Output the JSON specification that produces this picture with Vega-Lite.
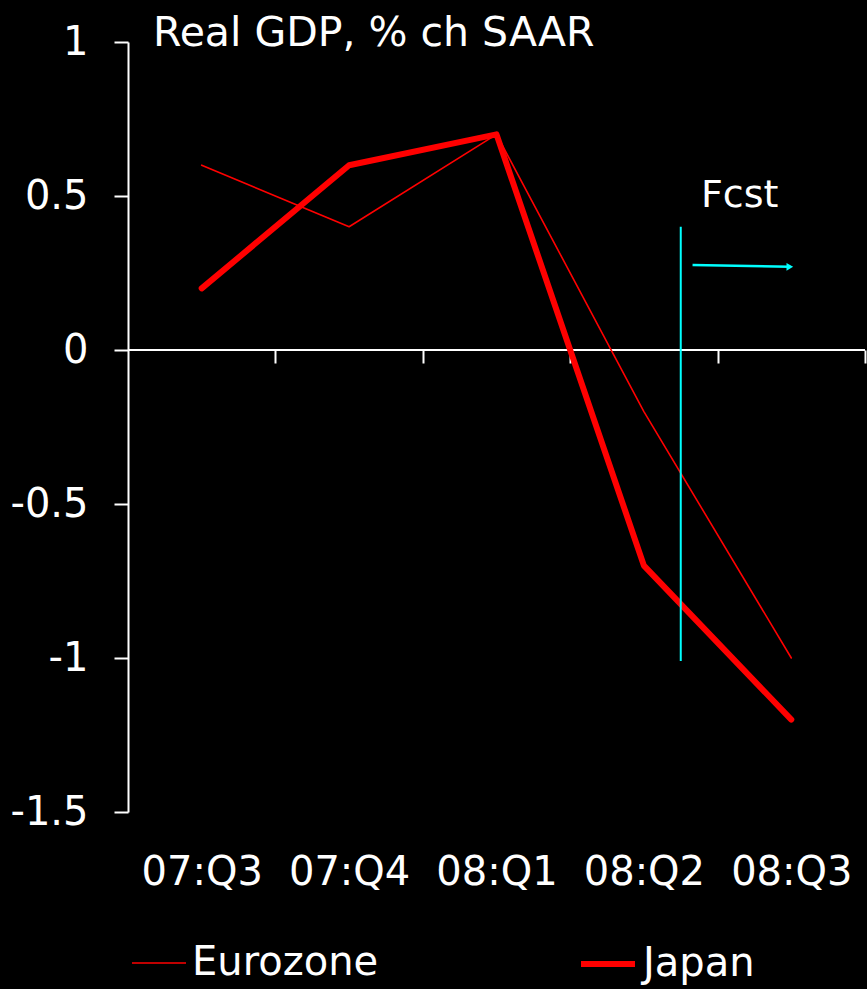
{
  "$schema": "https://vega.github.io/schema/vega-lite/v6.json",
  "width": 737,
  "height": 770,
  "autosize": {"type": "none"},
  "padding": {"left": 128, "top": 42, "right": 2, "bottom": 177},
  "background": "black",
  "title": {"text": "Real GDP, % ch SAAR", "anchor": "start", "frame": "group", "offset": -33, "dx": 25, "fontSize": 41, "font": "DejaVu Sans", "fontWeight": "normal", "color": "white"},
  "config": {"view": {"stroke": null}, "font": "DejaVu Sans"},
  "datasets": {
    "gdp": [
      {"t": 1, "quarter": "07:Q3", "series": "Eurozone", "value": 0.6},
      {"t": 2, "quarter": "07:Q4", "series": "Eurozone", "value": 0.4},
      {"t": 3, "quarter": "08:Q1", "series": "Eurozone", "value": 0.7},
      {"t": 4, "quarter": "08:Q2", "series": "Eurozone", "value": -0.2},
      {"t": 5, "quarter": "08:Q3", "series": "Eurozone", "value": -1.0},
      {"t": 1, "quarter": "07:Q3", "series": "Japan", "value": 0.2},
      {"t": 2, "quarter": "07:Q4", "series": "Japan", "value": 0.6},
      {"t": 3, "quarter": "08:Q1", "series": "Japan", "value": 0.7},
      {"t": 4, "quarter": "08:Q2", "series": "Japan", "value": -0.7},
      {"t": 5, "quarter": "08:Q3", "series": "Japan", "value": -1.2}
    ]
  },
  "resolve": {"axis": {"x": "independent"}},
  "layer": [
    {
      "data": {"values": [{"x": 0.5, "x2": 5.5, "y": 0}]},
      "mark": {"type": "rule", "color": "white", "strokeWidth": 2},
      "encoding": {
        "x": {"field": "x", "type": "quantitative", "scale": {"domain": [0.5, 5.5], "nice": false, "zero": false},
          "axis": {"orient": "bottom", "offset": -462, "values": [1.5, 2.5, 3.5, 4.5, 5.5], "labels": false, "domain": false, "ticks": true, "tickSize": 13, "tickWidth": 2, "tickColor": "white", "grid": false, "title": null}},
        "x2": {"field": "x2"},
        "y": {"field": "y", "type": "quantitative", "scale": {"domain": [-1.5, 1], "nice": false, "zero": false},
          "axis": {"values": [-1.5, -1, -0.5, 0, 0.5, 1], "labelExpr": "'' + datum.value", "tickSize": 14, "tickWidth": 2, "tickColor": "white", "domainColor": "white", "domainWidth": 2, "labelPadding": 26, "labelFontSize": 40, "labelColor": "white", "labelFont": "DejaVu Sans", "grid": false, "title": null}}
      }
    },
    {
      "data": {"name": "gdp"},
      "mark": {"type": "line", "strokeCap": "round", "strokeJoin": "round"},
      "encoding": {
        "x": {"field": "t", "type": "quantitative", "scale": {"domain": [0.5, 5.5], "nice": false, "zero": false},
          "axis": {"orient": "bottom", "values": [1, 2, 3, 4, 5], "labelExpr": "['07:Q3','07:Q4','08:Q1','08:Q2','08:Q3'][datum.value - 1]", "domain": false, "ticks": false, "tickSize": 0, "grid": false, "labelPadding": 40, "labelFontSize": 40, "labelColor": "white", "labelFont": "DejaVu Sans", "title": null}},
        "y": {"field": "value", "type": "quantitative", "scale": {"domain": [-1.5, 1], "nice": false, "zero": false},
          "axis": {"values": [-1.5, -1, -0.5, 0, 0.5, 1], "labelExpr": "'' + datum.value", "tickSize": 14, "tickWidth": 2, "tickColor": "white", "domainColor": "white", "domainWidth": 2, "labelPadding": 26, "labelFontSize": 40, "labelColor": "white", "labelFont": "DejaVu Sans", "grid": false, "title": null}},
        "color": {"field": "series", "type": "nominal", "scale": {"domain": ["Eurozone", "Japan"], "range": ["#ff0000", "#ff0000"]},
          "legend": {"orient": "none", "legendX": 3, "legendY": 892, "direction": "horizontal", "title": null, "symbolType": "stroke", "symbolSize": 2916, "labelFontSize": 40, "labelColor": "white", "labelFont": "DejaVu Sans", "labelOffset": 5, "labelLimit": 400, "columnPadding": 190}},
        "strokeWidth": {"field": "series", "type": "nominal", "scale": {"domain": ["Eurozone", "Japan"], "range": [1.6, 6]},
          "legend": {"orient": "none", "legendX": 3, "legendY": 892, "direction": "horizontal", "title": null, "symbolType": "stroke", "symbolSize": 2916, "labelFontSize": 40, "labelColor": "white", "labelFont": "DejaVu Sans", "labelOffset": 5, "labelLimit": 400, "columnPadding": 190}}
      }
    },
    {
      "data": {"values": [{"x": 4.25, "y": 0.4, "y2": -1.01}]},
      "mark": {"type": "rule", "color": "#00FFFF", "strokeWidth": 2},
      "encoding": {
        "x": {"field": "x", "type": "quantitative", "axis": null},
        "y": {"field": "y", "type": "quantitative"},
        "y2": {"field": "y2"}
      }
    },
    {
      "data": {"values": [{"x": 4.33, "y": 0.276}, {"x": 4.99, "y": 0.27}]},
      "mark": {"type": "line", "color": "#00FFFF", "strokeWidth": 2.5},
      "encoding": {
        "x": {"field": "x", "type": "quantitative", "axis": null},
        "y": {"field": "y", "type": "quantitative"}
      }
    },
    {
      "data": {"values": [{"x": 4.99, "y": 0.27}]},
      "mark": {"type": "point", "shape": "triangle-right", "filled": true, "color": "#00FFFF", "size": 60, "opacity": 1},
      "encoding": {
        "x": {"field": "x", "type": "quantitative", "axis": null},
        "y": {"field": "y", "type": "quantitative"}
      }
    },
    {
      "data": {"values": [{"x": 4.65, "y": 0.5, "label": "Fcst"}]},
      "mark": {"type": "text", "color": "white", "fontSize": 38, "font": "DejaVu Sans", "align": "center", "baseline": "middle"},
      "encoding": {
        "x": {"field": "x", "type": "quantitative", "axis": null},
        "y": {"field": "y", "type": "quantitative"},
        "text": {"field": "label"}
      }
    }
  ]
}
